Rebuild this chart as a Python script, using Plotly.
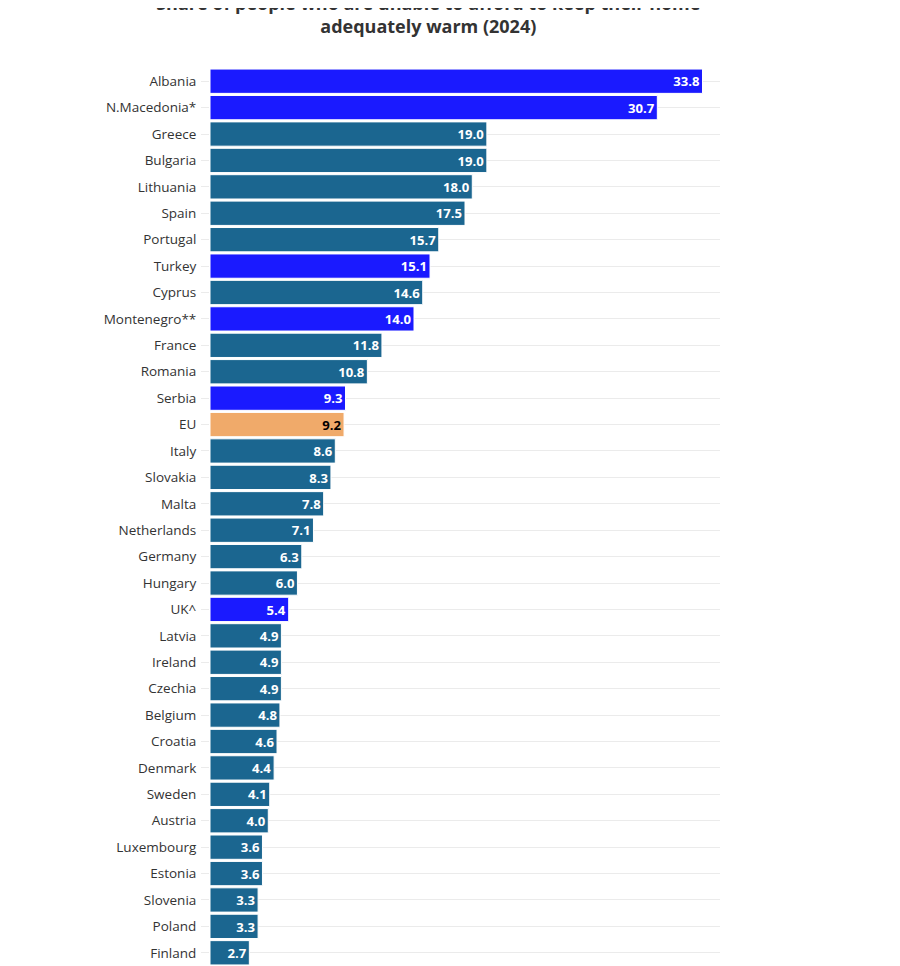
import plotly.graph_objects as go

countries = ["Albania", "N.Macedonia*", "Greece", "Bulgaria", "Lithuania", "Spain", "Portugal",
             "Turkey", "Cyprus", "Montenegro**", "France", "Romania", "Serbia", "EU", "Italy",
             "Slovakia", "Malta", "Netherlands", "Germany", "Hungary", "UK^", "Latvia", "Ireland",
             "Czechia", "Belgium", "Croatia", "Denmark", "Sweden", "Austria", "Luxembourg",
             "Estonia", "Slovenia", "Poland", "Finland"]
values = [33.8, 30.7, 19.0, 19.0, 18.0, 17.5, 15.7, 15.1, 14.6, 14.0, 11.8, 10.8, 9.3, 9.2, 8.6,
          8.3, 7.8, 7.1, 6.3, 6.0, 5.4, 4.9, 4.9, 4.9, 4.8, 4.6, 4.4, 4.1, 4.0, 3.6, 3.6, 3.3, 3.3, 2.7]
non_eu = ["Albania", "N.Macedonia*", "Turkey", "Montenegro**", "Serbia", "UK^"]

colors = []
for c in countries:
    if c == "EU":
        colors.append("#f0aa6a")
    elif c in non_eu:
        colors.append("#1a1aff")
    else:
        colors.append("#1b6690")
label_colors = ["black" if c == "EU" else "white" for c in countries]

fig = go.Figure(go.Bar(
    y=countries, x=values, orientation="h",
    marker=dict(color=colors, line=dict(color="white", width=1)),
    text=[f"{v:.1f}" for v in values], textposition="inside", insidetextanchor="end",
    textfont=dict(family="Open Sans", size=16.5, color=label_colors, weight="bold"),
    width=0.92, cliponaxis=False,
))
fig.update_layout(
    width=900, height=958,
    margin=dict(l=202, r=188, t=60, b=0),
    plot_bgcolor="white", paper_bgcolor="white",
    font=dict(family="Open Sans", size=13.5, color="#333"),
    title=dict(text="<b>Share of people who are unable to afford to keep their home<br>adequately warm (2024)</b>",
               x=0.467, xanchor="center", y=1, yanchor="top", pad=dict(t=2),
               font=dict(size=18, color="#333")),
    showlegend=False,
)
fig.update_xaxes(range=[0, 35], visible=False)
fig.update_yaxes(autorange="reversed", showgrid=True, gridcolor="#ebebeb",
                 ticks="outside", ticklen=8, tickcolor="#ebebeb", ticklabelstandoff=2)
fig.write_html("out.html")
